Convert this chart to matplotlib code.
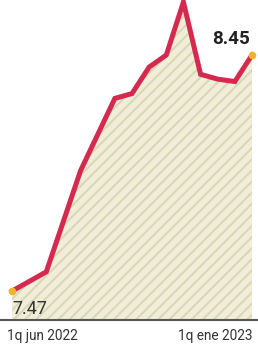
import matplotlib
matplotlib.use("Agg")
import matplotlib.pyplot as plt
import numpy as np

periods = ["1q jun 2022", "2q jun", "1q jul", "2q jul", "1q ago", "2q ago", "1q sep",
           "2q sep", "1q oct", "2q oct", "1q nov", "2q nov", "1q dic", "2q dic", "1q ene 2023"]
values = [7.47, 7.51, 7.55, 7.76, 7.97, 8.12, 8.27, 8.29, 8.40, 8.45, 8.67, 8.37, 8.35, 8.34, 8.45]
tick_labels = ["1q jun 2022", "1q ene 2023"]

plt.rcParams['hatch.color'] = '#dbd7b6'
plt.rcParams['hatch.linewidth'] = 1.5

fig = plt.figure(figsize=(2.58, 3.5), dpi=100)
ax = fig.add_axes([0, 30/350, 1, 320/350])
x = np.arange(len(values))
ymin = 7.35
ax.fill_between(x, values, ymin, facecolor='#f0eed8', hatch='///', edgecolor='#dbd7b6', linewidth=0)
ax.plot(x, values, color='#d52a50', lw=3.6, solid_joinstyle='miter', clip_on=False, zorder=3)
ax.scatter([x[0], x[-1]], [values[0], values[-1]], s=30, color='#f2b22a', zorder=4, clip_on=False, linewidths=0)
ax.set_xlim(-0.7, 14.35)
ax.set_ylim(ymin, 8.6785)
ax.axis('off')
ax.axhline(ymin, color='#555555', lw=1.5, clip_on=False)

ax.text(0.0, values[0] - 0.035, f"{values[0]:.2f}", ha='left', va='top', fontsize=13,
        color='#333333', family='Roboto')
ax.text(13.85, values[-1] + 0.03, f"{values[-1]:.2f}", ha='right', va='bottom', fontsize=13.5,
        color='#222222', fontweight='bold', family='Roboto')

fig.text(7/258, 1 - 336/350, tick_labels[0], ha='left', va='center', fontsize=9.8, color='#333333', family='Roboto')
fig.text(253/258, 1 - 336/350, tick_labels[1], ha='right', va='center', fontsize=9.8, color='#333333', family='Roboto')

fig.savefig('out.png', dpi=100)
